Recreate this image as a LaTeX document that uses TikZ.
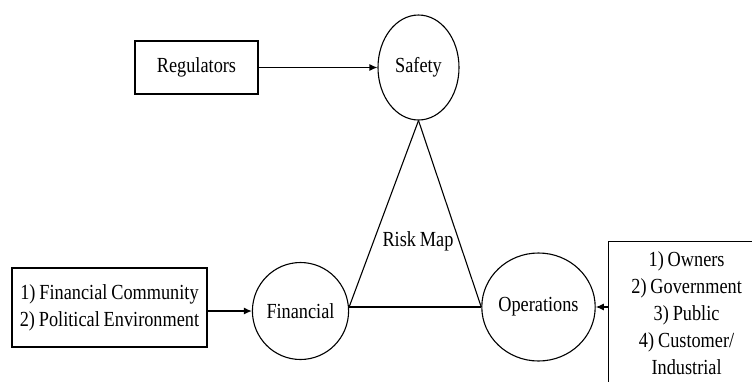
\documentclass[tikz,border=0pt]{standalone}
\usepackage{fontspec}
\setmainfont{Liberation Serif}[FakeStretch=0.85,WordSpace=0.85]
\usetikzlibrary{shapes.geometric,arrows.meta}
\begin{document}
\begin{tikzpicture}[x=1pt,y=-1pt,
  every node/.style={font=\fontsize{21.5}{27}\selectfont},
  boxstyle/.style={draw, line width=1.2pt, rectangle, inner sep=0pt, align=center},
  circstyle/.style={draw, line width=1.1pt, ellipse, inner sep=0pt},
  link/.style={line width=1.1pt},
  arr/.style={line width=1.2pt, -{Latex[length=8pt,width=7pt]}}]
\useasboundingbox (0,0) rectangle (752,381);
\clip (0,0) rectangle (752,381);
\node[boxstyle, minimum width=123pt, minimum height=53pt] (reg) at (196.5,67.5) {Regulators};
\node[circstyle, minimum width=81pt, minimum height=105pt] (saf) at (418.5,67.5) {Safety};
\node[boxstyle, minimum width=195pt, minimum height=79pt] (finbox) at (109.5,307.5) {1) Financial Community\\2) Political Environment};
\node[circstyle, minimum width=83pt, minimum height=97pt] (fin) at (300.5,311) {Financial};
\node[circstyle, minimum width=87pt, minimum height=108pt] (ops) at (538.5,307) {Operations};
\node[boxstyle, anchor=north west, minimum width=156pt, minimum height=143pt] (opsbox) at (608,241) {1) Owners\\2) Government\\3) Public\\4) Customer/\\Industrial};
\node (risk) at (418,241) {Risk Map};
\coordinate (finjoin) at (ops.west -| fin.east);
\draw[arr] (reg.east) -- (saf.west);
\draw[arr] (finbox.east |- fin.west) -- (fin.west);
\draw[arr] (opsbox.west |- ops.east) -- (ops.east);
\draw[link] (saf.south) -- (finjoin);
\draw[link] (saf.south) -- (ops.west);
\draw[link] (finjoin) -- (ops.west);
\end{tikzpicture}
\end{document}
